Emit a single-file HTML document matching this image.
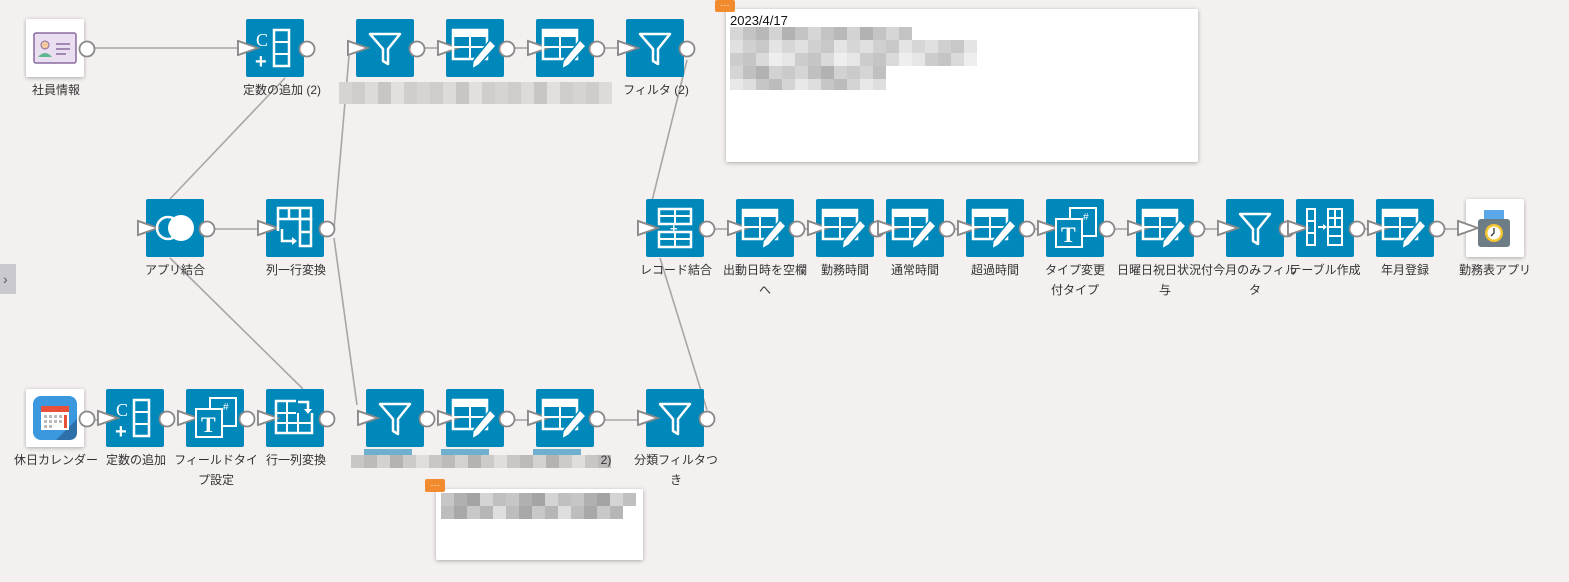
<!DOCTYPE html>
<html><head><meta charset="utf-8"><style>
html,body{margin:0;padding:0;background:#f3f0ef;}
body{width:1569px;height:582px;overflow:hidden;position:relative;font-family:"Liberation Sans","Noto Sans CJK JP",sans-serif;}
svg{position:absolute;left:0;top:0}
</style></head><body>
<svg id="s" width="1569" height="582" xmlns="http://www.w3.org/2000/svg" font-family="Liberation Sans, Noto Sans CJK JP, sans-serif">
<defs>
<filter id="sh" x="-5%" y="-5%" width="110%" height="120%"><feDropShadow dx="0" dy="1" stdDeviation="2" flood-color="#000" flood-opacity="0.3"/></filter>
<g id="edit">
<rect x="7" y="11" width="34" height="29" fill="none" stroke="#fff" stroke-width="2.5"/>
<rect x="7" y="11" width="34" height="7" fill="#fff"/>
<line x1="7" y1="28" x2="41" y2="28" stroke="#fff" stroke-width="2"/>
<line x1="24" y1="18" x2="24" y2="40" stroke="#fff" stroke-width="2"/>
<path d="M44,21 L50,27 L33,46 L26,50 L27,42 Z" fill="#fff" stroke="#0088bb" stroke-width="1.5"/>
</g>
<g id="funnel"><path d="M14,15 L44,15 L32,30 L32,45 L27,42 L27,30 Z" fill="none" stroke="#fff" stroke-width="2.5" stroke-linejoin="round"/></g>
<g id="cadd">
<text x="10" y="27" font-family="Liberation Serif,serif" font-size="18" fill="#fff">C</text>
<text x="9" y="49" font-size="20" font-weight="bold" fill="#fff">+</text>
<rect x="28" y="11" width="15" height="36" fill="none" stroke="#fff" stroke-width="2.5"/>
<line x1="28" y1="23" x2="43" y2="23" stroke="#fff" stroke-width="2"/><line x1="28" y1="35" x2="43" y2="35" stroke="#fff" stroke-width="2"/>
</g>
<g id="ticon">
<rect x="24" y="9" width="26" height="28" fill="none" stroke="#fff" stroke-width="2"/>
<text x="37" y="21" font-size="10" fill="#fff">#</text>
<rect x="10" y="20" width="26" height="28" fill="#0088bb" stroke="#fff" stroke-width="2"/>
<text x="15" y="43" font-family="Liberation Serif,serif" font-size="22" font-weight="bold" fill="#fff">T</text>
</g>
</defs>
<g id="lines" stroke="#a8a6a6" stroke-width="1.6" fill="none"></g>
<g id="nodes"></g>
</svg>
<script>
const L=document.getElementById('lines'),N=document.getElementById('nodes');
let ls='',ns='';
function ln(a,b,c,d){ls+=`<line x1="${a}" y1="${b}" x2="${c}" y2="${d}"/>`;}
const B='#0088bb';
function icon(t,x,y){
 let g=`<g transform="translate(${x},${y})">`;
 if(t=='edit'||t=='funnel'||t=='cadd'||t=='ticon') g+=`<use href="#${t}"/>`;
 else if(t=='join') g+=`<circle cx="22" cy="29" r="11" fill="none" stroke="#fff" stroke-width="2.5"/><circle cx="35" cy="29" r="13" fill="#fff"/>`;
 else if(t=='c2r') g+=`<rect x="12" y="9" width="33" height="11" fill="none" stroke="#fff" stroke-width="2.5"/><line x1="23" y1="9" x2="23" y2="20" stroke="#fff" stroke-width="2.5"/><line x1="34" y1="9" x2="34" y2="20" stroke="#fff" stroke-width="2.5"/><rect x="34" y="20" width="11" height="27" fill="none" stroke="#fff" stroke-width="2.5"/><line x1="34" y1="33" x2="45" y2="33" stroke="#fff" stroke-width="2.5"/><line x1="12" y1="20" x2="12" y2="32" stroke="#fff" stroke-width="2.5"/><path d="M16,30 L16,42 L27,42" fill="none" stroke="#fff" stroke-width="2.5"/><path d="M26,38 L31,42 L26,46Z" fill="#fff"/>`;
 else if(t=='r2c') g+=`<rect x="10" y="12" width="36" height="32" fill="none" stroke="#fff" stroke-width="2.5"/><line x1="10" y1="24" x2="30" y2="24" stroke="#fff" stroke-width="2"/><line x1="10" y1="34" x2="46" y2="34" stroke="#fff" stroke-width="2"/><line x1="21" y1="12" x2="21" y2="44" stroke="#fff" stroke-width="2"/><line x1="32" y1="24" x2="32" y2="44" stroke="#fff" stroke-width="2"/><rect x="30" y="8" width="18" height="16" fill="${B}"/><path d="M32,13 L42,13 L42,22" fill="none" stroke="#fff" stroke-width="2.5"/><path d="M38,20 L42,25 L46,20Z" fill="#fff"/>`;
 else if(t=='rec') g+=`<rect x="13" y="10" width="32" height="15" fill="none" stroke="#fff" stroke-width="2.5"/><line x1="13" y1="17" x2="45" y2="17" stroke="#fff" stroke-width="2"/><line x1="29" y1="10" x2="29" y2="25" stroke="#fff" stroke-width="2"/><rect x="13" y="33" width="32" height="15" fill="none" stroke="#fff" stroke-width="2.5"/><line x1="13" y1="40" x2="45" y2="40" stroke="#fff" stroke-width="2"/><line x1="29" y1="33" x2="29" y2="48" stroke="#fff" stroke-width="2"/><text x="24" y="34" font-size="13" font-weight="bold" fill="#fff">+</text>`;
 else if(t=='tbl') g+=`<rect x="11" y="10" width="8" height="36" fill="none" stroke="#fff" stroke-width="2"/><line x1="11" y1="22" x2="19" y2="22" stroke="#fff" stroke-width="2"/><line x1="11" y1="34" x2="19" y2="34" stroke="#fff" stroke-width="2"/><path d="M22,28 L28,28" stroke="#fff" stroke-width="2"/><path d="M27,25 L31,28 L27,31Z" fill="#fff"/><rect x="32" y="10" width="14" height="36" fill="none" stroke="#fff" stroke-width="2"/><line x1="32" y1="19" x2="46" y2="19" stroke="#fff" stroke-width="2"/><line x1="32" y1="28" x2="46" y2="28" stroke="#fff" stroke-width="2"/><line x1="32" y1="37" x2="46" y2="37" stroke="#fff" stroke-width="2"/><line x1="39" y1="10" x2="39" y2="28" stroke="#fff" stroke-width="2"/>`;
 else if(t=='card') g+=`<rect x="8" y="14" width="42" height="30" rx="2" fill="#eadff0" stroke="#8a6aa0" stroke-width="1.5"/><circle cx="19" cy="26" r="4" fill="#f3c9a0" stroke="#8a6aa0"/><path d="M12,38 Q19,30 26,38Z" fill="#5fb78f"/><line x1="30" y1="25" x2="44" y2="25" stroke="#8a6aa0" stroke-width="1.5"/><line x1="30" y1="30" x2="44" y2="30" stroke="#8a6aa0" stroke-width="1.5"/><line x1="30" y1="35" x2="40" y2="35" stroke="#8a6aa0" stroke-width="1.5"/>`;
 else if(t=='cal') g+=`<rect x="7" y="7" width="44" height="44" rx="8" fill="#3b97de"/><path d="M51,30 L51,43 Q51,51 43,51 L30,51Z" fill="#2d6fa8"/><rect x="15" y="17" width="28" height="24" fill="#fff"/><rect x="15" y="17" width="28" height="6" fill="#e8503a"/><g fill="#bbb"><rect x="18" y="26" width="3" height="3"/><rect x="23" y="26" width="3" height="3"/><rect x="28" y="26" width="3" height="3"/><rect x="33" y="26" width="3" height="3"/><rect x="18" y="31" width="3" height="3"/><rect x="23" y="31" width="3" height="3"/><rect x="28" y="31" width="3" height="3"/><rect x="33" y="31" width="3" height="3"/><rect x="18" y="36" width="3" height="3"/><rect x="23" y="36" width="3" height="3"/></g><rect x="38" y="26" width="3" height="13" fill="#e8503a"/>`;
 else if(t=='app') g+=`<rect x="18" y="11" width="20" height="10" fill="#5aa8e8"/><rect x="12" y="20" width="32" height="28" rx="3" fill="#6e7c86"/><circle cx="28" cy="34" r="9" fill="#f4c430"/><circle cx="28" cy="34" r="6.5" fill="#fff"/><path d="M28,29 L28,34 L25,37" stroke="#333" stroke-width="1.3" fill="none"/>`;
 return g+'</g>';
}
function node(x,y,t,white,inp,out){
 if(inp) ns+=`<path d="M${x-8},${y+22} L${x+12},${y+29} L${x-8},${y+36}Z" fill="#fff" stroke="#8a8888" stroke-width="1.8"/>`;
 ns+=`<rect x="${x}" y="${y}" width="58" height="58" rx="2" fill="${white?'#fff':B}" ${white?'filter="url(#sh)"':''}/>`;
 if(inp) ns+=`<path d="M${x-8},${y+22} L${x+12},${y+29} L${x-8},${y+36}Z" fill="#fff" stroke="#8a8888" stroke-width="1.8"/>`;
 ns+=icon(t,x,y);
 if(out) ns+=`<circle cx="${x+61}" cy="${y+30}" r="7.5" fill="#fff" stroke="#8a8888" stroke-width="1.8"/>`;
}
function lab(x,y,s){ns+=`<text x="${x}" y="${y}" font-size="12" fill="#333" text-anchor="middle">${s}</text>`;}
function blur(x,y,w,h,cols){let n=Math.ceil(w/13);for(let i=0;i<n;i++){const c=cols[i%cols.length];ns+=`<rect x="${x+i*13}" y="${y}" width="13" height="${h}" fill="${c}"/>`;}}
// lines
ln(95,48,238,48);ln(285,78,170,199);ln(214,229,258,229);ln(334,229,349,56);ln(334,238,357,405);ln(170,258,303,389);
ln(424,48,438,48);ln(514,48,528,48);ln(604,48,618,48);
ln(687,60,651,205);ln(707,410,660,258);
ln(95,420,98,420);ln(596,420,638,420);ln(514,420,528,420);
// top row
node(26,19,'card',1,0,1);node(246,19,'cadd',0,1,1);node(356,19,'funnel',0,1,1);node(446,19,'edit',0,1,1);node(536,19,'edit',0,1,1);node(626,19,'funnel',0,1,1);
// middle
node(146,199,'join',0,1,1);node(266,199,'c2r',0,1,1);
const mid=[[646,'rec'],[736,'edit'],[816,'edit'],[886,'edit'],[966,'edit'],[1046,'ticon'],[1136,'edit'],[1226,'funnel'],[1296,'tbl'],[1376,'edit']];
for(let i=0;i<mid.length;i++){const nx=(i<mid.length-1?mid[i+1][0]:1466);ln(mid[i][0]+68,229,nx-8,229);}
mid.forEach(m=>node(m[0],199,m[1],0,1,1));node(1466,199,'app',1,1,0);
// bottom
node(26,389,'cal',1,0,1);node(106,389,'cadd',0,1,1);node(186,389,'ticon',0,1,1);node(266,389,'r2c',0,1,1);node(366,389,'funnel',0,1,1);node(446,389,'edit',0,1,1);node(536,389,'edit',0,1,1);node(646,389,'funnel',0,1,1);
// labels
lab(56,94,'社員情報');lab(282,94,'定数の追加 (2)');lab(656,94,'フィルタ (2)');
blur(339,82,270,22,['#d6d3d2','#cfcccb','#dddada','#c8c5c4','#e2dfde','#d0cdcc']);
lab(175,274,'アプリ結合');lab(296,274,'列一行変換');
lab(676,274,'レコード結合');lab(765,274,'出動日時を空欄');lab(765,294,'へ');lab(845,274,'勤務時間');lab(915,274,'通常時間');lab(995,274,'超過時間');lab(1075,274,'タイプ変更');lab(1075,294,'付タイプ');lab(1165,274,'日曜日祝日状況付');lab(1165,294,'与');lab(1255,274,'今月のみフィル');lab(1255,294,'タ');lab(1325,274,'テーブル作成');lab(1405,274,'年月登録');lab(1495,274,'勤務表アプリ');
lab(56,464,'休日カレンダー');lab(136,464,'定数の追加');lab(216,464,'フィールドタイ');lab(216,484,'プ設定');lab(296,464,'行一列変換');lab(676,464,'分類フィルタつ');lab(676,484,'き');
ns+=`<rect x="364" y="449" width="48" height="7" fill="#6fb0cf"/><rect x="441" y="449" width="48" height="7" fill="#6fb0cf"/><rect x="533" y="449" width="48" height="7" fill="#6fb0cf"/>`;
blur(351,455,260,13,['#c9c6c5','#bdbaba','#d4d1d0','#b5b2b1','#cdcaca','#e0dddc']);
lab(606,464,'2)');
// side tab
ns+=`<rect x="0" y="264" width="16" height="30" fill="#c9c9cf"/><text x="3" y="284" font-size="14" fill="#556">›</text>`;
// notes
ns+=`<rect x="726" y="9" width="472" height="153" rx="2" fill="#fff" filter="url(#sh)"/>`;
ns+=`<rect x="715" y="0" width="20" height="12" rx="2" fill="#f28a2e"/><text x="725" y="8" font-size="9" fill="#fff" text-anchor="middle">···</text>`;
ns+=`<text x="730" y="25" font-size="13" fill="#111">2023/4/17</text>`;
blur(730,27,180,13,['#d6d6d6','#c3c3c3','#b8b8b8','#d3d3d3','#b2b2b2','#c4c4c4']);
blur(730,40,245,13,['#e0e0e0','#d0d0d0','#c8c8c8','#e4e4e4','#d6d6d6']);
blur(730,53,245,13,['#cccccc','#c5c5c5','#dadada','#eeeeee','#e6e6e6']);
blur(730,66,150,13,['#d5d5d5','#c0c0c0','#b2b2b2','#d2d2d2','#cacaca']);
blur(730,79,150,11,['#e8e8e8','#dedede','#c6c6c6','#bcbcbc','#d4d4d4']);
ns+=`<rect x="436" y="489" width="207" height="71" rx="2" fill="#fff" filter="url(#sh)"/>`;
ns+=`<rect x="425" y="479" width="20" height="13" rx="2" fill="#f28a2e"/><text x="435" y="488" font-size="9" fill="#fff" text-anchor="middle">···</text>`;
blur(441,493,190,13,['#c6c6c6','#b0b0b0','#a4a4a4','#d4d4d4','#c0c0c0']);
blur(441,506,170,13,['#bdbdbd','#a8a8a8','#c8c8c8','#b6b6b6','#dedede']);
L.innerHTML=ls;N.innerHTML=ns;
</script>
</body></html>
